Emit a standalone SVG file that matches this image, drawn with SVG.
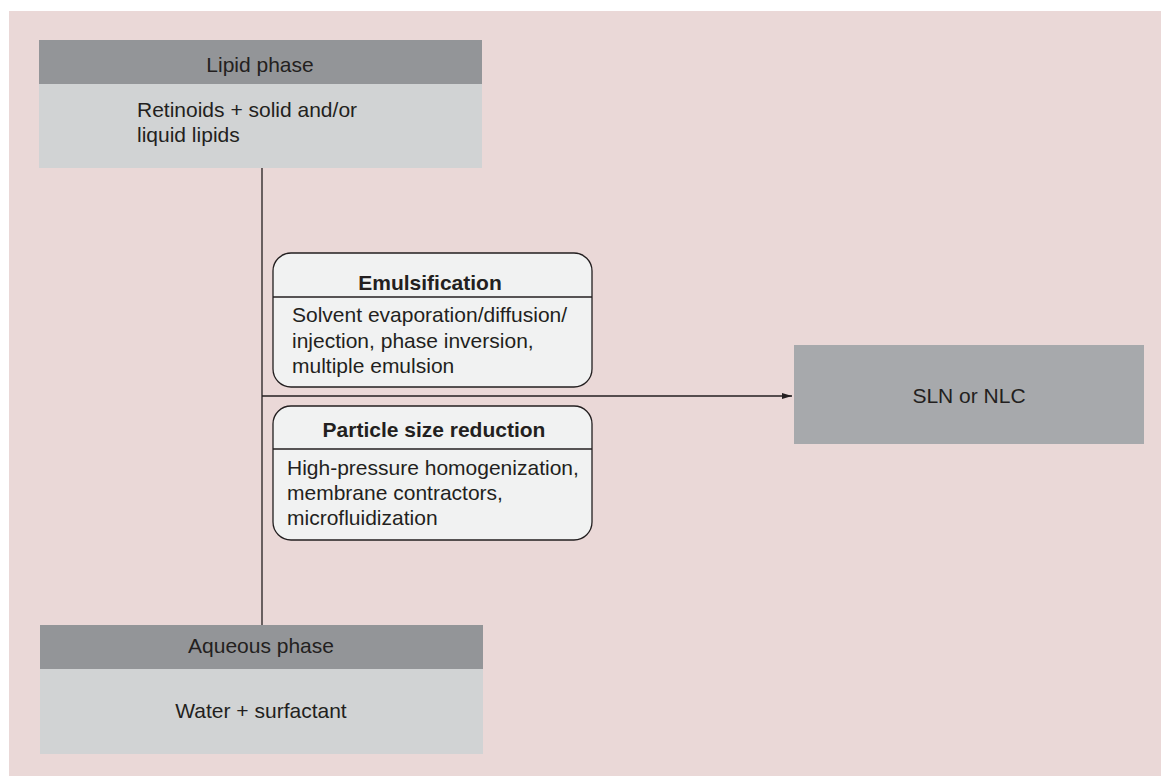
<svg xmlns="http://www.w3.org/2000/svg" width="1161" height="776" viewBox="0 0 1161 776">
  <style>
    text { font-family: "Liberation Sans", Arial, sans-serif; font-size: 21px; fill: #231f20; }
    .b { font-weight: bold; }
    .mid { text-anchor: middle; }
    .hdr { fill: #939598; }
    .body { fill: #d1d3d4; }
    .proc { fill: #f1f2f2; stroke: #231f20; stroke-width: 1.3; }
    .div { stroke: #231f20; stroke-width: 1.3; }
    .wire { stroke: #231f20; stroke-width: 1.3; fill: none; }
  </style>
  <defs>
    <marker id="arrow" viewBox="0 0 10 6" refX="10" refY="3" markerWidth="10" markerHeight="6" markerUnits="userSpaceOnUse" orient="auto">
      <path d="M0,0 L10,3 L0,6 Z" fill="#231f20"/>
    </marker>
  </defs>

  <!-- panel background -->
  <rect x="9" y="11" width="1152" height="765" fill="#ead8d7"/>

  <!-- connectors -->
  <g id="connectors">
    <line class="wire" x1="262" y1="168" x2="262" y2="625"/>
    <line class="wire" x1="262" y1="396" x2="792" y2="396" marker-end="url(#arrow)"/>
  </g>

  <!-- lipid phase -->
  <g id="lipid-phase">
    <rect class="hdr" x="39" y="40" width="443" height="44"/>
    <rect class="body" x="39" y="84" width="443" height="84"/>
    <text class="mid" x="260" y="72">Lipid phase</text>
    <text x="137" y="117">Retinoids + solid and/or</text>
    <text x="137" y="142">liquid lipids</text>
  </g>

  <!-- emulsification -->
  <g id="emulsification">
    <rect class="proc" x="273" y="253" width="319" height="134" rx="18" ry="18"/>
    <line class="div" x1="273" y1="297" x2="592" y2="297"/>
    <text class="b mid" x="430" y="290">Emulsification</text>
    <text x="292" y="322">Solvent evaporation/diffusion/</text>
    <text x="292" y="348">injection, phase inversion,</text>
    <text x="292" y="373">multiple emulsion</text>
  </g>

  <!-- particle size reduction -->
  <g id="size-reduction">
    <rect class="proc" x="273" y="406" width="319" height="134" rx="18" ry="18"/>
    <line class="div" x1="273" y1="449" x2="592" y2="449"/>
    <text class="b mid" x="434" y="437">Particle size reduction</text>
    <text x="287" y="475">High-pressure homogenization,</text>
    <text x="287" y="500">membrane contractors,</text>
    <text x="287" y="525">microfluidization</text>
  </g>

  <!-- product -->
  <g id="product">
    <rect x="794" y="345" width="350" height="99" fill="#a7a9ac"/>
    <text class="mid" x="969" y="403">SLN or NLC</text>
  </g>

  <!-- aqueous phase -->
  <g id="aqueous-phase">
    <rect class="hdr" x="40" y="625" width="443" height="44"/>
    <rect class="body" x="40" y="669" width="443" height="85"/>
    <text class="mid" x="261" y="653">Aqueous phase</text>
    <text class="mid" x="261" y="718">Water + surfactant</text>
  </g>
</svg>
